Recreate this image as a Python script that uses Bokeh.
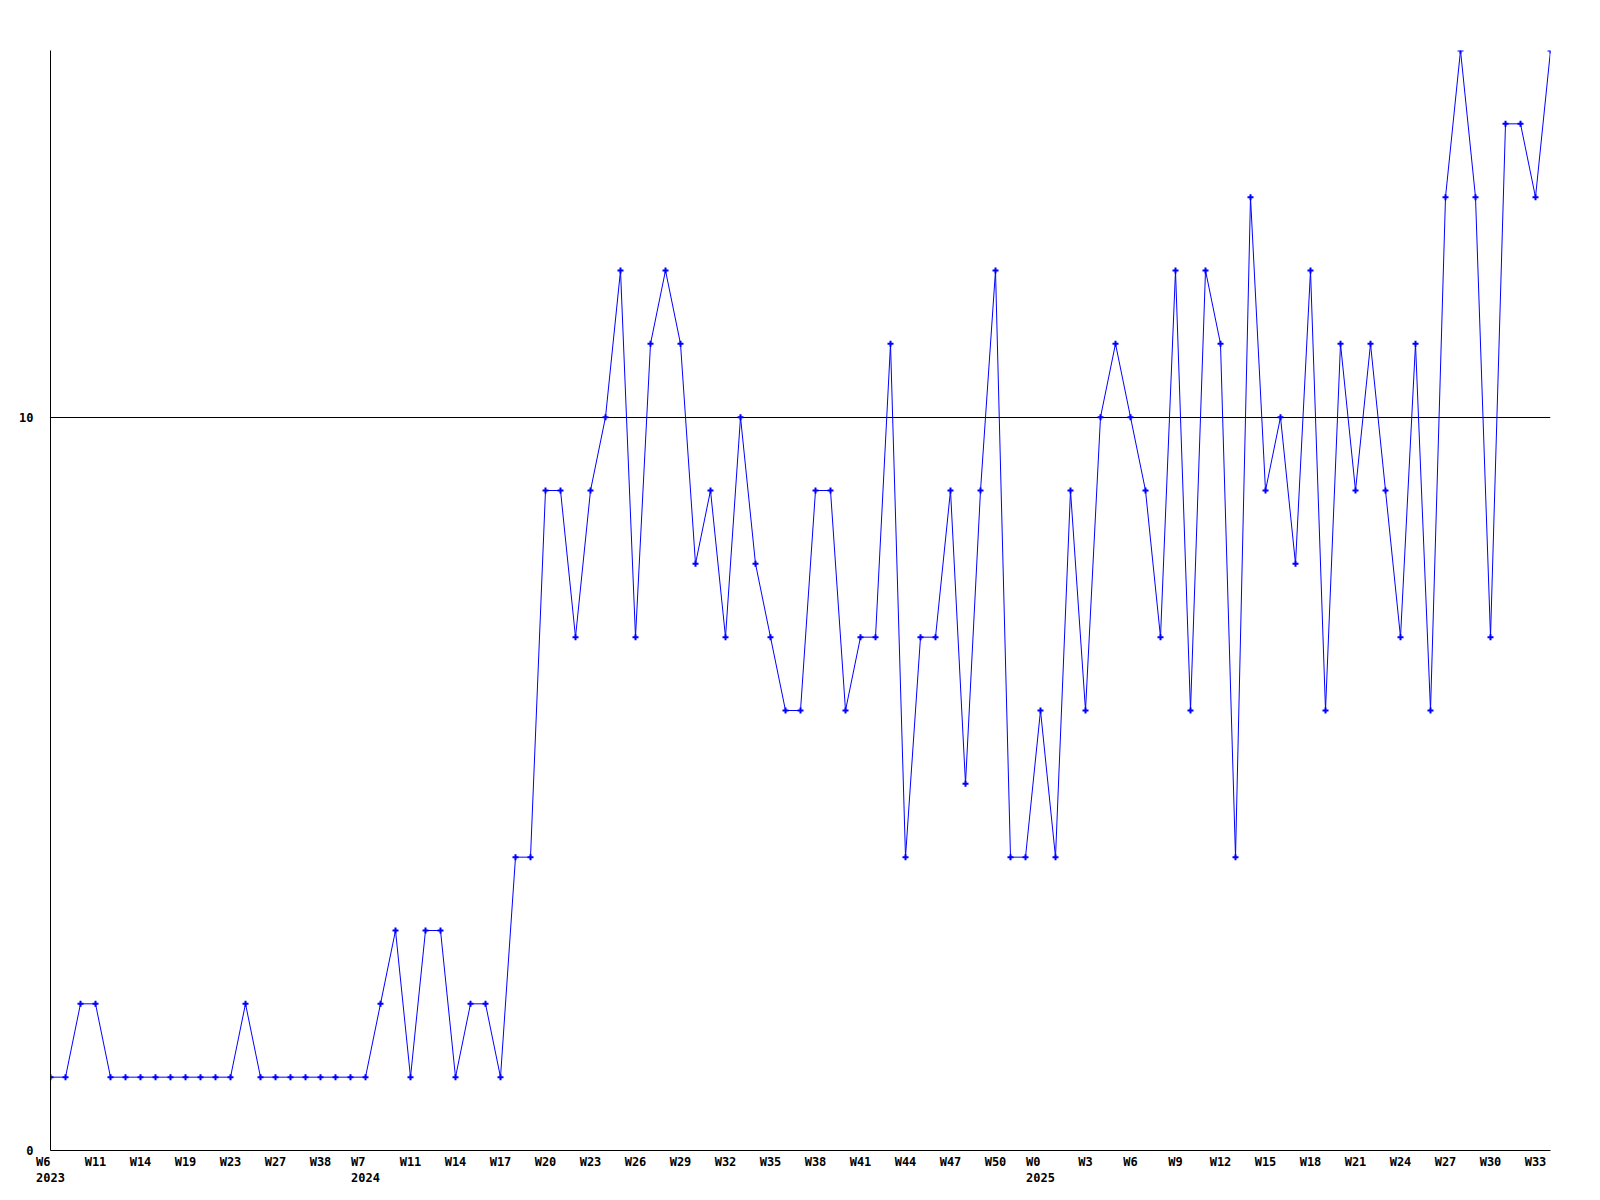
from bokeh.plotting import figure
from bokeh.models import Range1d, FixedTicker
from bokeh.embed import file_html
from bokeh.resources import INLINE

# Weekly values (one per point, in order)
values = [1, 1, 2, 2, 1, 1, 1, 1, 1, 1, 1, 1, 1, 2, 1, 1, 1, 1, 1, 1,
          1, 1, 2, 3, 1, 3, 3, 1, 2, 2, 1, 4, 4, 9, 9, 7, 9, 10, 12, 7,
          11, 12, 11, 8, 9, 7, 10, 8, 7, 6, 6, 9, 9, 6, 7, 7, 11, 4, 7, 7,
          9, 5, 9, 12, 4, 4, 6, 4, 9, 6, 10, 11, 10, 9, 7, 12, 6, 12, 11, 4,
          13, 9, 10, 8, 12, 6, 11, 9, 11, 9, 7, 11, 6, 13, 15, 13, 7, 14, 14, 13,
          15]

# Tick labels, shown at every third point (year on a second line)
tick_weeks = ["W6", "W11", "W14", "W19", "W23", "W27", "W38",
              "W7", "W11", "W14", "W17", "W20", "W23", "W26", "W29", "W32",
              "W35", "W38", "W41", "W44", "W47", "W50",
              "W0", "W3", "W6", "W9", "W12", "W15", "W18", "W21", "W24",
              "W27", "W30", "W33"]
tick_years = {0: "2023", 7: "2024", 22: "2025"}
tick_step = 3

y_ticks = [0, 10]
y_max = 15

xs = list(range(len(values)))
tick_pos = [i * tick_step for i in range(len(tick_weeks))]


def make_label(i, w):
    if i in tick_years:
        yr = tick_years[i]
        pad = "\u00a0" * max(0, len(yr) - len(w))
        return w + pad + "\n" + yr
    return w


tick_text = [make_label(i, w) for i, w in enumerate(tick_weeks)]

p = figure(width=1592, height=1192, output_backend="svg", toolbar_location=None,
           x_range=Range1d(0, len(values) - 1), y_range=Range1d(0, y_max),
           min_border_left=50, min_border_right=42, min_border_top=50,
           min_border_bottom=42)
p.outline_line_color = None
p.background_fill_color = "white"
p.border_fill_color = "white"

p.line(xs, values, line_color="#0000ff", line_width=1)
p.scatter(xs, values, marker="cross", size=6, line_color="#0000ff", line_width=2)

font = "DejaVu Sans Mono"

xa = p.xaxis[0]
xa.ticker = FixedTicker(ticks=tick_pos)
xa.major_label_overrides = {t: l for t, l in zip(tick_pos, tick_text)}
xa.major_tick_line_color = None
xa.minor_tick_line_color = None
xa.axis_line_color = "black"
xa.axis_line_width = 1
xa.major_label_text_font = font
xa.major_label_text_font_style = "bold"
xa.major_label_text_font_size = "12px"
xa.major_label_text_color = "black"
xa.major_label_standoff = -2

ya = p.yaxis[0]
ya.ticker = FixedTicker(ticks=y_ticks)
ya.major_tick_line_color = None
ya.minor_tick_line_color = None
ya.axis_line_color = "black"
ya.axis_line_width = 1
ya.major_label_text_font = font
ya.major_label_text_font_style = "bold"
ya.major_label_text_font_size = "12px"
ya.major_label_text_color = "black"
ya.major_label_standoff = 11

p.xgrid.grid_line_color = None
p.ygrid.ticker = FixedTicker(ticks=[10])
p.ygrid.grid_line_color = "black"
p.ygrid.grid_line_width = 1

open("out.html", "w").write(file_html(p, INLINE))
